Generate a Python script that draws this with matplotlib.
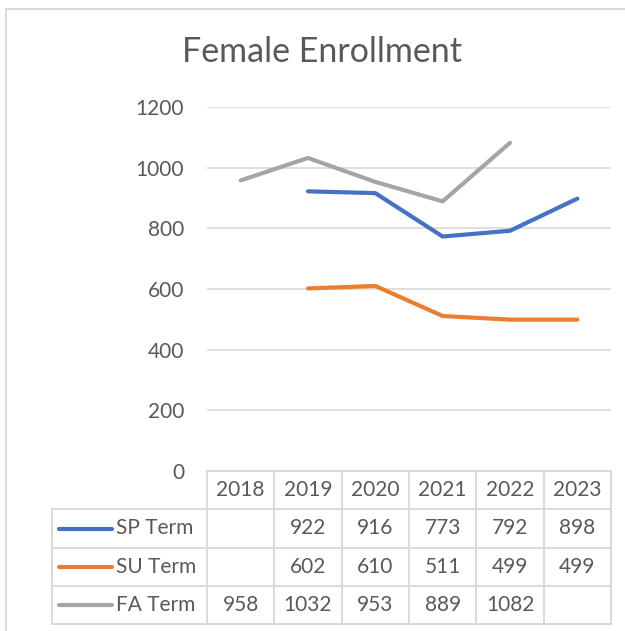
import numpy as np
import matplotlib
matplotlib.use("Agg")
import matplotlib.pyplot as plt
from matplotlib import transforms
from matplotlib.lines import Line2D

years = ["2018", "2019", "2020", "2021", "2022", "2023"]
sp_term = [np.nan, 922, 916, 773, 792, 898]
su_term = [np.nan, 602, 610, 511, 499, 499]
fa_term = [958, 1032, 953, 889, 1082, np.nan]
series_names = ["SP Term", "SU Term", "FA Term"]
series_colors = ["#4472C4", "#ED7D31", "#A5A5A5"]
yticks = [0, 200, 400, 600, 800, 1000, 1200]

plt.rcParams['font.family'] = ['Lato', 'DejaVu Sans']
W, H = 625, 631
fig = plt.figure(figsize=(W / 100, H / 100), dpi=100)
TXT = "#595959"
GRID = "#D9D9D9"
FS = 15

def fy(py):
    return 1 - py / H

def fx(px):
    return px / W

ax = fig.add_axes([fx(207), fy(471), fx(611) - fx(207), fy(107) - fy(471)])
x = np.arange(len(years))
series = [sp_term, su_term, fa_term]
for vals, c in zip(series, series_colors):
    ax.plot(x, vals, color=c, lw=3.0, solid_capstyle='round', solid_joinstyle='round', zorder=3)

ax.set_xlim(-0.5, len(years) - 0.5)
ax.set_ylim(0, 1200)
ax.set_yticks(yticks)
ax.set_yticklabels([str(t) for t in yticks], color=TXT, fontsize=FS)
ax.tick_params(axis='y', length=0, pad=16.5)
ax.set_xticks([])
for s in ax.spines.values():
    s.set_visible(False)
ax.grid(axis='y', color=GRID, lw=1.2)
ax.set_axisbelow(True)

fig.text(fx(322), fy(52), "Female Enrollment", ha='center', va='center', fontsize=24.5, color=TXT)

# chart frame
fig.add_artist(Line2D([fx(6), fx(6)], [fy(9), 0], color=GRID, lw=1.4, transform=fig.transFigure))
fig.add_artist(Line2D([fx(6), 1], [fy(9), fy(9)], color=GRID, lw=1.4, transform=fig.transFigure))

# data table
tr = transforms.blended_transform_factory(ax.transData, fig.transFigure)
row_edges = [471, 509, 548, 586, 624]
bounds = np.arange(len(years) + 1) - 0.5
tcol = "#D9D9D9"
tlw = 1.4
for py in row_edges:
    ax.add_artist(Line2D([bounds[0], bounds[-1]], [fy(py), fy(py)], color=tcol, lw=tlw, transform=tr, clip_on=False))
for py in row_edges[1:]:
    fig.add_artist(Line2D([fx(52), fx(207)], [fy(py), fy(py)], color=tcol, lw=tlw, transform=fig.transFigure))
for b in bounds:
    ax.add_artist(Line2D([b, b], [fy(row_edges[0]), fy(row_edges[-1])], color=tcol, lw=tlw, transform=tr, clip_on=False))
fig.add_artist(Line2D([fx(52), fx(52)], [fy(row_edges[1]), fy(row_edges[-1])], color=tcol, lw=tlw, transform=fig.transFigure))

hy = fy((row_edges[0] + row_edges[1]) / 2)
for xi, yr in zip(x, years):
    ax.text(xi, hy, yr, transform=tr, ha='center', va='center', fontsize=FS, color=TXT, clip_on=False)

for r, (vals, name, c) in enumerate(zip(series, series_names, series_colors)):
    cy = fy((row_edges[r + 1] + row_edges[r + 2]) / 2)
    fig.add_artist(Line2D([fx(59), fx(112)], [cy, cy], color=c, lw=3.0, solid_capstyle='round', transform=fig.transFigure))
    fig.text(fx(116), cy, name, ha='left', va='center', fontsize=FS, color=TXT)
    for xi, v in zip(x, vals):
        if not np.isnan(v):
            ax.text(xi, cy, str(int(v)), transform=tr, ha='center', va='center', fontsize=FS, color=TXT, clip_on=False)

fig.savefig("out.png", dpi=100)
